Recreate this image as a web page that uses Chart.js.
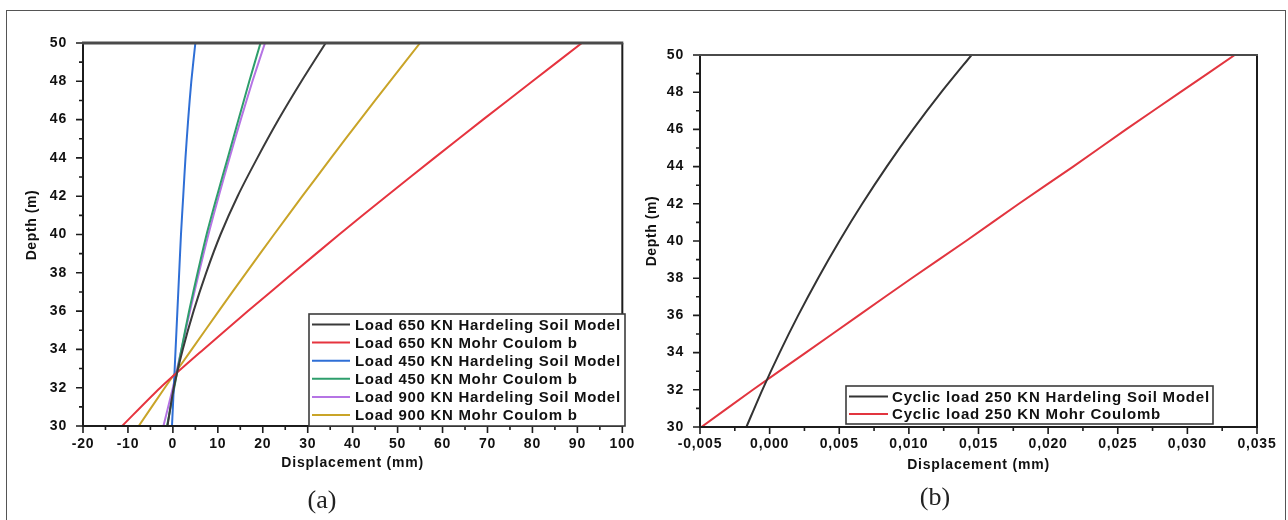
<!DOCTYPE html>
<html>
<head>
<meta charset="utf-8">
<script src="https://cdn.jsdelivr.net/npm/chart.js@4.4.1/dist/chart.umd.min.js"></script>
<style>
  html, body { margin: 0; padding: 0; background: #fff; }
  #wrap { position: relative; width: 1288px; height: 520px; overflow: hidden; background: #fff; }
  #frame { position: absolute; left: 6px; top: 10px; width: 1280px; height: 520px;
           border: 1px solid #555; border-bottom: none; box-sizing: border-box; }
  canvas { position: absolute; top: 0; }
  #chartA { left: 0; }
  #chartB { left: 644px; }
  .cap { position: absolute; font-family: "Liberation Serif", "DejaVu Serif", serif;
         font-size: 26px; color: #222; transform: translate(-50%, -50%); white-space: nowrap; }
</style>
</head>
<body>
<div id="wrap">
  <div id="frame"></div>
  <canvas id="chartA" width="644" height="520"></canvas>
  <canvas id="chartB" width="644" height="520"></canvas>
  <div class="cap" style="left:322px; top:500px;">(a)</div>
  <div class="cap" style="left:935px; top:497px;">(b)</div>
</div>
<script>
// Depth stations (m), shared by every curve
const depth = [30, 32, 34, 36, 38, 40, 42, 44, 46, 48, 50];

// Panel (a): lateral displacement (mm) under static loads
const load650HS = [-1.2, 0.2, 2.2, 4.6, 7.4, 10.6, 14.4, 18.8, 23.5, 28.6, 34.0];
const load650MC = [-11.3, -2.8, 6.8, 16.7, 26.8, 37.0, 47.5, 58.2, 69.0, 80.0, 91.0];
const load450HS = [-0.2, 0.2, 0.6, 1.0, 1.4, 1.8, 2.3, 2.8, 3.4, 4.1, 5.0];
const load450MC = [-1.3, 0.3, 1.9, 3.6, 5.5, 7.5, 9.8, 12.2, 14.6, 17.0, 19.5];
const load900HS = [-2.1, 0.0, 1.9, 3.8, 5.8, 7.9, 10.2, 12.6, 15.1, 17.7, 20.5];
const load900MC = [-7.6, -1.8, 4.2, 10.2, 16.3, 22.5, 28.8, 35.2, 41.7, 48.3, 55.0];

// Panel (b): displacement (mm) under cyclic load
const cyclic250HS = [-0.00167, -0.00052, 0.00072, 0.00205, 0.00348, 0.00501, 0.00665, 0.00841, 0.0103, 0.01233, 0.0145];
const cyclic250MC = [-0.0049, -0.0012, 0.0026, 0.0064, 0.0102, 0.0141, 0.0179, 0.0218, 0.0256, 0.0295, 0.0334];

// Tick labels
const depthTicks = [30, 32, 34, 36, 38, 40, 42, 44, 46, 48, 50];
const dispTicksA = [-20, -10, 0, 10, 20, 30, 40, 50, 60, 70, 80, 90, 100];
const dispTicksB = [-0.005, 0.000, 0.005, 0.010, 0.015, 0.020, 0.025, 0.030, 0.035];

// Legend labels and line colours
const labelsA = ['Load 650 KN Hardeling Soil Model', 'Load 650 KN Mohr Coulom b',
                 'Load 450 KN Hardeling Soil Model', 'Load 450 KN Mohr Coulom b',
                 'Load 900 KN Hardeling Soil Model', 'Load 900 KN Mohr Coulom b'];
const colorsA = ['#3a3a3a', '#e6343f', '#2f6fd6', '#2e9e6c', '#b574e4', '#c9a428'];
const labelsB = ['Cyclic load 250 KN Hardeling Soil Model', 'Cyclic load 250 KN Mohr Coulomb'];
const colorsB = ['#333333', '#e2353f'];

const FONT = '"Liberation Sans", Arial, sans-serif';

function toPoints(values) {
  return values.map((v, i) => ({ x: v, y: depth[i] }));
}
function midpoints(ticks) {
  const out = [];
  for (let i = 0; i < ticks.length - 1; i++) out.push((ticks[i] + ticks[i + 1]) / 2);
  return out;
}
function makeDatasets(seriesList, labels, colors) {
  return seriesList.map((vals, i) => ({
    label: labels[i],
    data: toPoints(vals),
    borderColor: colors[i],
    backgroundColor: colors[i],
    showLine: true,
    fill: false,
    pointRadius: 0,
    borderWidth: 2,
    tension: 0.25
  }));
}

// Frame, tick marks, vertical axis title and boxed legend
const decor = {
  id: 'decor',
  beforeDraw(chart) {
    chart.ctx.letterSpacing = '0.8px';
  },
  afterDraw(chart, args, o) {
    const ctx = chart.ctx, a = chart.chartArea;
    const X = chart.scales.x, Y = chart.scales.y;
    ctx.save();
    ctx.letterSpacing = '0px';

    // tick marks (major + minor), pointing outward
    ctx.strokeStyle = '#1c1c1c';
    ctx.lineWidth = 1.6;
    ctx.beginPath();
    const tickX = (v, len) => { const p = X.getPixelForValue(v); ctx.moveTo(p, a.bottom); ctx.lineTo(p, a.bottom + len); };
    const tickY = (v, len) => { const p = Y.getPixelForValue(v); ctx.moveTo(a.left, p); ctx.lineTo(a.left - len, p); };
    o.xMajor.forEach(v => tickX(v, 7));
    midpoints(o.xMajor).forEach(v => tickX(v, 4));
    o.yMajor.forEach(v => tickY(v, 7));
    midpoints(o.yMajor).forEach(v => tickY(v, 4));
    ctx.stroke();

    // plot frame
    ctx.lineWidth = 2;
    ctx.strokeStyle = '#1c1c1c';
    ctx.beginPath();
    ctx.moveTo(a.left, a.top); ctx.lineTo(a.left, a.bottom); ctx.lineTo(a.right, a.bottom); ctx.lineTo(a.right, a.top);
    ctx.stroke();
    ctx.lineWidth = o.topWidth;
    ctx.strokeStyle = '#4a4a4a';
    ctx.beginPath();
    ctx.moveTo(a.left - 1, a.top); ctx.lineTo(a.right + 1, a.top);
    ctx.stroke();

    // vertical axis title
    ctx.save();
    ctx.fillStyle = '#111';
    ctx.font = 'bold 14px ' + FONT;
    ctx.letterSpacing = '0.6px';
    ctx.translate(o.yTitle.x, o.yTitle.y);
    ctx.rotate(-Math.PI / 2);
    ctx.textAlign = 'center';
    ctx.textBaseline = 'middle';
    ctx.fillText(o.yTitle.text, 0, 0);
    ctx.restore();

    // legend box
    const L = o.legend;
    ctx.fillStyle = '#fff';
    ctx.fillRect(L.left, L.top, L.right - L.left, L.bottom - L.top);
    ctx.lineWidth = 1.6;
    ctx.strokeStyle = '#3c3c3c';
    ctx.strokeRect(L.left, L.top, L.right - L.left, L.bottom - L.top);
    ctx.font = 'bold 15px ' + FONT;
    ctx.letterSpacing = L.spacing;
    ctx.textAlign = 'left';
    ctx.textBaseline = 'middle';
    chart.data.datasets.forEach((ds, i) => {
      const y = L.firstRow + i * L.rowStep;
      ctx.strokeStyle = ds.borderColor;
      ctx.lineWidth = 2;
      ctx.beginPath();
      ctx.moveTo(L.sampleFrom, y); ctx.lineTo(L.sampleTo, y);
      ctx.stroke();
      ctx.fillStyle = '#111';
      ctx.fillText(ds.label, L.textX, y + 1);
    });
    ctx.restore();
  }
};

function baseOptions(cfg) {
  return {
    responsive: false,
    animation: false,
    events: [],
    layout: { padding: cfg.padding },
    plugins: {
      legend: { display: false },
      tooltip: { enabled: false },
      decor: cfg.decor
    },
    scales: {
      x: {
        type: 'linear', position: 'bottom',
        min: cfg.xMin, max: cfg.xMax,
        afterBuildTicks: s => { s.ticks = cfg.xTicks.map(v => ({ value: v })); },
        afterFit: s => { s.height = cfg.xHeight; },
        grid: { display: false, drawTicks: false },
        border: { display: false },
        ticks: {
          padding: cfg.xPad, autoSkip: false, maxRotation: 0, color: '#111',
          font: { family: FONT, size: cfg.tickSize, weight: 'bold' },
          callback: cfg.xFormat
        },
        title: {
          display: true, text: 'Displacement (mm)', color: '#111',
          font: { family: FONT, size: 14, weight: 'bold' },
          padding: { top: 0, bottom: cfg.titlePad }
        }
      },
      y: {
        type: 'linear', position: 'left',
        min: 30, max: 50,
        afterBuildTicks: s => { s.ticks = depthTicks.map(v => ({ value: v })); },
        afterFit: s => { s.width = cfg.yWidth; },
        grid: { display: false, drawTicks: false },
        border: { display: false },
        ticks: {
          padding: cfg.yPad, autoSkip: false, color: '#111',
          font: { family: FONT, size: cfg.tickSize, weight: 'bold' },
          callback: v => String(v)
        },
        title: { display: false, text: 'Depth (m)' }
      }
    }
  };
}

new Chart(document.getElementById('chartA'), {
  type: 'scatter',
  data: {
    datasets: makeDatasets([load650HS, load650MC, load450HS, load450MC, load900HS, load900MC], labelsA, colorsA)
  },
  options: baseOptions({
    padding: { left: 0, top: 43, right: 19, bottom: 0 },
    xMin: -20, xMax: 100, xTicks: dispTicksA, xHeight: 94, xPad: 10, yWidth: 83, yPad: 16,
    tickSize: 14, titlePad: 48,
    xFormat: v => String(v),
    decor: {
      xMajor: dispTicksA, yMajor: depthTicks, topWidth: 3,
      yTitle: { x: 32, y: 225, text: 'Depth (m)' },
      legend: { left: 309, top: 314, right: 625, bottom: 426, firstRow: 324.5, rowStep: 18.1,
                sampleFrom: 312, sampleTo: 350, textX: 355, spacing: '0.7px' }
    }
  }),
  plugins: [decor]
});

new Chart(document.getElementById('chartB'), {
  type: 'scatter',
  data: {
    datasets: makeDatasets([cyclic250HS, cyclic250MC], labelsB, colorsB)
  },
  options: baseOptions({
    padding: { left: 0, top: 55, right: 31, bottom: 0 },
    xMin: -0.005, xMax: 0.035, xTicks: dispTicksB, xHeight: 93, xPad: 9, yWidth: 56, yPad: 16,
    tickSize: 14, titlePad: 46,
    xFormat: v => v.toFixed(3).replace('.', ','),
    decor: {
      xMajor: dispTicksB, yMajor: depthTicks, topWidth: 2,
      yTitle: { x: 8, y: 231, text: 'Depth (m)' },
      legend: { left: 202, top: 386, right: 569, bottom: 424, firstRow: 396.5, rowStep: 17.5,
                sampleFrom: 205, sampleTo: 244, textX: 248, spacing: '0.8px' }
    }
  }),
  plugins: [decor]
});
</script>
</body>
</html>
